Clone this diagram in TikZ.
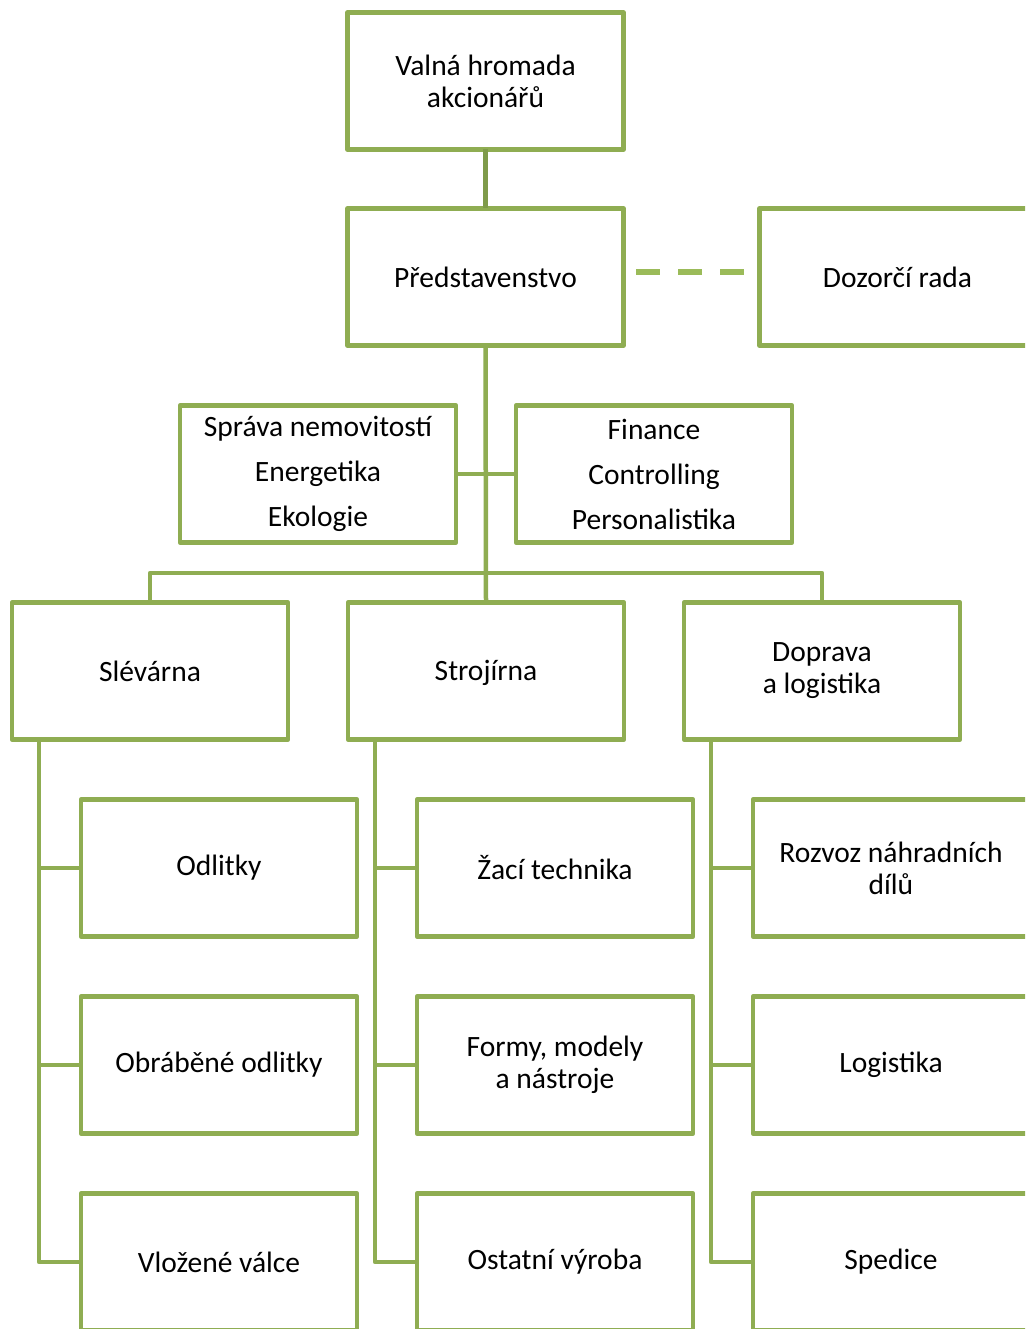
\documentclass[tikz,border=0pt]{standalone}
\usepackage{fontspec}
\setmainfont{Carlito}
\definecolor{boxgreen}{HTML}{8FAD52}
\definecolor{darkgreen}{HTML}{7F9B4A}
\definecolor{dashgreen}{HTML}{9BBB59}
\begin{document}
\begin{tikzpicture}[x=1pt,y=-1pt,
  orgbox/.style={draw=boxgreen,line width=4.5pt,fill=white,minimum width=276pt,minimum height=137pt,
    inner sep=0pt,outer sep=0pt,align=center,line join=round,
    font=\fontsize{29.5}{32}\selectfont},
  conn/.style={draw=boxgreen,line width=4.5pt,line join=round},
  dashconn/.style={draw=dashgreen,line width=6.5pt,dash pattern=on 24pt off 18pt}]
\useasboundingbox (0,0) rectangle (1025,1329);
\clip (0,0) rectangle (1025,1329);
\node[orgbox] (valna) at (485.5,81) {Valná hromada\\akcionářů};
\node[orgbox] (pred) at (485.5,277) {Představenstvo};
\node[orgbox] (doz) at (897.5,277) {Dozorčí rada};
\draw[conn,draw=darkgreen] (valna.south) -- (pred.north);
\draw[dashconn] ([xshift=12.5pt,yshift=5pt]pred.east) -- ([xshift=-15.5pt,yshift=5pt]doz.west);
\node[orgbox] (spr) at (318,474) {Správa nemovitostí\\[13pt]Energetika\\[13pt]Ekologie};
\node[orgbox] (fin) at (654,474) {Finance\\[13pt]Controlling\\[13pt]Personalistika};
\node[orgbox] (slev) at (150,671) {Slévárna};
\node[orgbox] (stro) at (486,671) {};
\node[font=\fontsize{29.5}{32}\selectfont,inner sep=0pt] (strot) at ([yshift=-2pt]stro.center) {Strojírna};
\node[orgbox] (dop) at (822,671) {Doprava\\a logistika};
\node[orgbox] (odl) at (219,868) {Odlitky};
\node[orgbox] (obr) at (219,1065) {Obráběné odlitky};
\node[orgbox] (vlo) at (219,1262) {Vložené válce};
\node[orgbox] (zac) at (555,868) {Žací technika};
\node[orgbox] (for) at (555,1065) {Formy, modely\\a nástroje};
\node[orgbox] (ost) at (555,1262) {Ostatní výroba};
\node[orgbox] (roz) at (891,868) {Rozvoz náhradních\\dílů};
\node[orgbox] (log) at (891,1065) {Logistika};
\node[orgbox] (spe) at (891,1262) {Spedice};
% trunk and bars
\draw[conn] (pred.south) -- (stro.north);
\draw[conn] (spr.east) -- (fin.west);
\draw[conn] (slev.north) -- (slev.north |- 0,573) -| (dop.north);
% child lines
\draw[conn] ([xshift=27pt]slev.south west) |- (vlo.west);
\draw[conn] ([xshift=27pt]slev.south west) |- (odl.west);
\draw[conn] ([xshift=27pt]slev.south west) |- (obr.west);
\draw[conn] ([xshift=27pt]stro.south west) |- (ost.west);
\draw[conn] ([xshift=27pt]stro.south west) |- (zac.west);
\draw[conn] ([xshift=27pt]stro.south west) |- (for.west);
\draw[conn] ([xshift=27pt]dop.south west) |- (spe.west);
\draw[conn] ([xshift=27pt]dop.south west) |- (roz.west);
\draw[conn] ([xshift=27pt]dop.south west) |- (log.west);
\end{tikzpicture}
\end{document}
